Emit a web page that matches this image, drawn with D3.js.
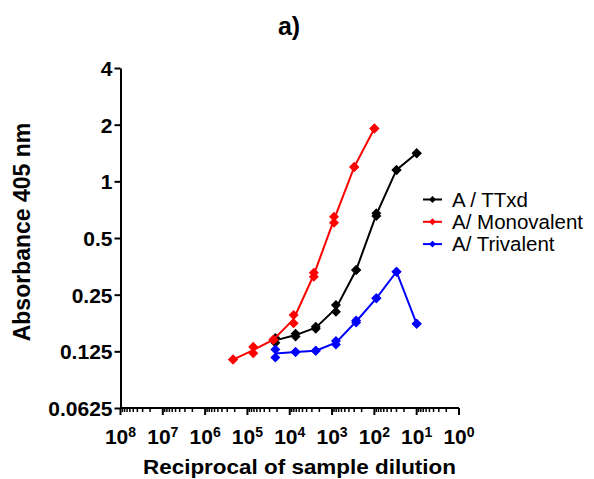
<!DOCTYPE html>
<html>
<head>
<meta charset="utf-8">
<script src="https://cdn.jsdelivr.net/npm/d3@7"></script>
<style>
  body { margin: 0; background: #fff; }
  svg { font-family: "Liberation Sans", Arial, sans-serif; }
</style>
</head>
<body>
<svg width="594" height="479"></svg>
<script>
// dilutions (reciprocal), two replicate readings per series
const dilMono = [218700, 72900, 24300, 8100, 2700, 900, 300, 100];
const dilOther = [21870, 7290, 2430, 810, 270, 90, 30, 10];

const ttxdRep1 = [0.139, 0.150, 0.165, 0.203, 0.338, 0.654, 1.15, 1.41];
const ttxdRep2 = [0.147, 0.155, 0.169, 0.220, 0.338, 0.676, 1.15, 1.41];
const monoRep1 = [0.113, 0.122, 0.144, 0.176, 0.311, 0.603, 1.19, 1.91];
const monoRep2 = [0.113, 0.132, 0.144, 0.195, 0.327, 0.649, 1.19, 1.91];
const triRep1 = [0.116, 0.124, 0.126, 0.136, 0.178, 0.239, 0.331, 0.175];
const triRep2 = [0.128, 0.124, 0.126, 0.142, 0.182, 0.239, 0.331, 0.175];

const seriesNames = ["A / TTxd", "A/ Monovalent", "A/ Trivalent"];
const seriesColors = ["#000000", "#ff0000", "#0000ff"];

const yTicks = [0.0625, 0.125, 0.25, 0.5, 1, 2, 4];
const xExps = [8, 7, 6, 5, 4, 3, 2, 1, 0];

const series = [
  { name: seriesNames[0], color: seriesColors[0], x: dilOther, r1: ttxdRep1, r2: ttxdRep2 },
  { name: seriesNames[1], color: seriesColors[1], x: dilMono, r1: monoRep1, r2: monoRep2 },
  { name: seriesNames[2], color: seriesColors[2], x: dilOther, r1: triRep1, r2: triRep2 }
];

const svg = d3.select("svg");
const x = d3.scaleLog().domain([1e8, 1]).range([120.5, 459]);
const y = d3.scaleLog().base(2).domain([0.0625, 4]).range([408, 68]);

// title
svg.append("text").attr("x", 289).attr("y", 35).attr("text-anchor", "middle")
  .style("font-size", "25px").style("font-weight", "bold").text("a)");

// y axis
const yAxis = svg.append("g").attr("transform", "translate(120.5,0)")
  .call(d3.axisLeft(y).tickValues(yTicks).tickFormat(d => String(d)).tickSize(6).tickSizeOuter(0));
yAxis.select(".domain").attr("stroke-width", 2);
yAxis.selectAll(".tick line").attr("stroke-width", 2);
yAxis.selectAll(".tick text").attr("x", -8).attr("dy", "0.36em")
  .style("font-size", "21px").style("font-weight", "bold").attr("fill", "#000");

// x axis: major + minor ticks
const minor = [];
for (let e = 0; e < 8; e++) for (let m = 2; m <= 9; m++) minor.push(m * Math.pow(10, e));
const xg = svg.append("g").attr("transform", "translate(0,408)");
xg.append("line").attr("x1", x(1e8)).attr("x2", x(1)).attr("stroke", "#000").attr("stroke-width", 2);
xg.selectAll(".minor").data(minor).join("line")
  .attr("x1", d => x(d)).attr("x2", d => x(d)).attr("y1", 0).attr("y2", 4)
  .attr("stroke", "#000").attr("stroke-width", 1.5);
xg.selectAll(".major").data(xExps).join("line")
  .attr("x1", d => x(Math.pow(10, d))).attr("x2", d => x(Math.pow(10, d)))
  .attr("y1", 0).attr("y2", 7).attr("stroke", "#000").attr("stroke-width", 2);
const xl = xg.selectAll(".lab").data(xExps).join("text")
  .attr("x", d => x(Math.pow(10, d))).attr("y", 36).attr("text-anchor", "middle")
  .style("font-size", "21px").style("font-weight", "bold");
xl.append("tspan").text("10");
xl.append("tspan").attr("dy", "-0.5em").style("font-size", "14px").text(d => d);

// axis titles
svg.append("text").attr("x", 299.5).attr("y", 474).attr("text-anchor", "middle")
  .attr("textLength", 313).attr("lengthAdjust", "spacingAndGlyphs")
  .style("font-size", "20.5px").style("font-weight", "bold").text("Reciprocal of sample dilution");
svg.append("text").attr("transform", "translate(30,232) rotate(-90)").attr("text-anchor", "middle")
  .style("font-size", "23px").style("font-weight", "bold").text("Absorbance 405 nm");

const diamond = d3.symbol().type(d3.symbolDiamond2).size(64);
const line = d3.line().x(d => x(d.x)).y(d => y(d.m));

series.forEach(s => {
  const pts = s.x.map((xv, i) => ({ x: xv, a: s.r1[i], b: s.r2[i], m: Math.sqrt(s.r1[i] * s.r2[i]) }));
  svg.append("path").datum(pts).attr("d", line).attr("fill", "none")
    .attr("stroke", s.color).attr("stroke-width", 2);
  const reps = pts.flatMap(p => [{ x: p.x, v: p.a }, { x: p.x, v: p.b }]);
  svg.append("g").selectAll("path").data(reps).join("path")
    .attr("d", diamond).attr("transform", d => `translate(${x(d.x)},${y(d.v)})`)
    .attr("fill", s.color);
});

// legend
const lg = svg.append("g").selectAll("g").data(series).join("g")
  .attr("transform", (d, i) => `translate(423,${199.5 + i * 22.3})`);
lg.append("line").attr("x1", 0).attr("x2", 19).attr("stroke", d => d.color).attr("stroke-width", 2);
lg.append("path").attr("d", d3.symbol().type(d3.symbolDiamond2).size(30))
  .attr("transform", "translate(9.5,0)").attr("fill", d => d.color);
lg.append("text").attr("x", 29).attr("dy", "0.36em").style("font-size", "20.5px").text(d => d.name);
</script>
</body>
</html>
